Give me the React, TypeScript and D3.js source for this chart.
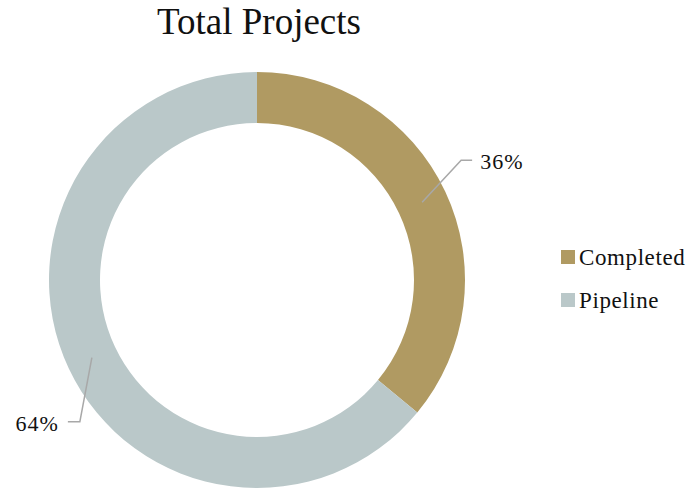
import React from "react";
import * as d3 from "d3";

const categories = ["Completed", "Pipeline"];
const values = [36, 64];
const labels = ["36%", "64%"];
const colors = ["#B09A62", "#BAC8C9"];

const W = 689;
const H = 489;
const FONT = "'Liberation Serif', 'Times New Roman', serif";

export default function App() {
  const cx = 257;
  const cy = 280;
  const outerR = 208;
  const innerR = 157;
  const pie = d3.pie<number>().sort(null).value((d) => d);
  const arcs = pie(values);
  const arc = d3.arc<d3.PieArcDatum<number>>().innerRadius(innerR).outerRadius(outerR);

  const leader = (c: [number, number]) => {
    const right = c[0] > 0;
    const elbow: [number, number] = right ? [c[0] + 39, c[1] - 42] : [c[0] - 12, c[1] + 64];
    const end: [number, number] = right ? [elbow[0] + 11, elbow[1]] : [elbow[0] - 12, elbow[1]];
    return { elbow, end, right };
  };

  return (
    <svg
      width={W}
      height={H}
      style={{ position: "absolute", left: 0, top: 0, background: "#fff" }}
    >
      <text x={259} y={34} textAnchor="middle" fontFamily={FONT} fontSize={37} fill="#111">
        Total Projects
      </text>
      <g transform={`translate(${cx},${cy})`}>
        {arcs.map((a, i) => (
          <path key={i} d={arc(a) || ""} fill={colors[i]} />
        ))}
        {arcs.map((a, i) => {
          const c = arc.centroid(a) as [number, number];
          const { elbow, end, right } = leader(c);
          return (
            <g key={"l" + i}>
              <polyline
                points={`${c[0]},${c[1]} ${elbow[0]},${elbow[1]} ${end[0]},${end[1]}`}
                fill="none"
                stroke="#A8A8A8"
                strokeWidth={1.5}
              />
              <text
                x={right ? end[0] + 8 : end[0] - 9}
                y={end[1] + 9}
                textAnchor={right ? "start" : "end"}
                fontFamily={FONT}
                fontSize={22}
                letterSpacing={1}
                fill="#111"
              >
                {labels[i]}
              </text>
            </g>
          );
        })}
      </g>
      <g>
        {categories.map((c, i) => (
          <g key={c} transform={`translate(561,${250 + i * 43})`}>
            <rect width={14} height={14} fill={colors[i]} />
            <text x={18} y={15} fontFamily={FONT} fontSize={23} letterSpacing={0.6} fill="#111">
              {c}
            </text>
          </g>
        ))}
      </g>
    </svg>
  );
}
